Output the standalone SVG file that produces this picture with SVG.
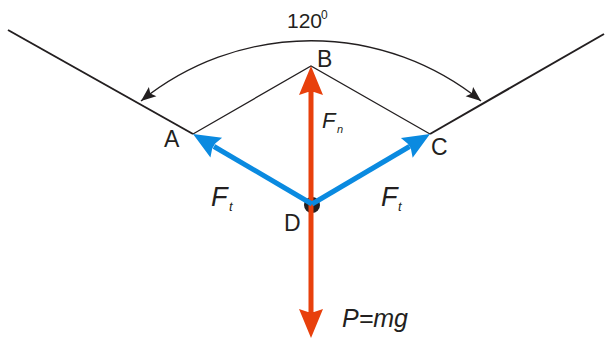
<svg xmlns="http://www.w3.org/2000/svg" width="608" height="338" viewBox="0 0 608 338">
<style>
.rope{stroke:#231f20;stroke-width:2;fill:none}
.thin{stroke:#231f20;stroke-width:1.3;fill:none}
.red{stroke:#e8400c;stroke-width:5;fill:none}
.blue{stroke:#0a8ae0;stroke-width:5;fill:none}
.lbl{font-family:"Liberation Sans",Arial,sans-serif;fill:#231f20}
.it{font-style:italic}
</style>
<defs>
<path id="ah" d="M0,0 L-29,-12 L-26,-3 L-26,3 L-29,12 Z"/>
<path id="bh" d="M0,0 L-27,-11.5 L-24,-3 L-24,3 L-27,11.5 Z"/>
<marker id="sm" viewBox="-16 -7 17 14" refX="0" refY="0" markerWidth="17" markerHeight="14" markerUnits="userSpaceOnUse" orient="auto-start-reverse">
<path d="M0,0 L-15,-6 L-12,0 L-15,6 Z" fill="#231f20"/>
</marker>
</defs>
<g id="ropes">
<line class="rope" x1="8" y1="30" x2="193" y2="134"/>
<line class="rope" x1="430" y1="134" x2="604" y2="34"/>
</g>
<g id="triangle">
<polyline class="thin" points="193,134 311,66 430,134"/>
</g>
<g id="D">
<circle cx="312" cy="205" r="8" fill="#231f20"/>
</g>
<g id="connectors">
<path class="thin" d="M141,101 A270,270 0 0 1 481,101" stroke-width="1.5" marker-start="url(#sm)" marker-end="url(#sm)"/>
<line class="red" x1="311" y1="92" x2="311" y2="314"/>
<use href="#ah" fill="#e8400c" transform="translate(311,66) rotate(-90)"/>
<use href="#ah" fill="#e8400c" transform="translate(311,338) rotate(90)"/>
<line class="blue" x1="312" y1="204" x2="214" y2="146.5"/>
<line class="blue" x1="312" y1="204" x2="409.5" y2="146.5"/>
<use href="#bh" fill="#0a8ae0" transform="translate(193,134) rotate(210.5)"/>
<use href="#bh" fill="#0a8ae0" transform="translate(430,134) rotate(-30.7)"/>
</g>
<g id="labels" class="lbl">
<text x="287" y="28" font-size="21">120</text>
<text x="321" y="19" font-size="12">0</text>
<text x="317" y="67" font-size="23">B</text>
<text x="164" y="147" font-size="23">A</text>
<text x="431" y="155" font-size="23">C</text>
<text x="284" y="231" font-size="23">D</text>
<text x="322" y="128" font-size="22" class="it">F</text>
<text x="337" y="133" font-size="11" class="it">n</text>
<text x="211" y="206" font-size="27" class="it">F</text>
<text x="229" y="211" font-size="13" class="it">t</text>
<text x="381" y="206" font-size="27" class="it">F</text>
<text x="398" y="211" font-size="13" class="it">t</text>
<text x="342" y="327" font-size="25" class="it">P=mg</text>
</g>
</svg>
